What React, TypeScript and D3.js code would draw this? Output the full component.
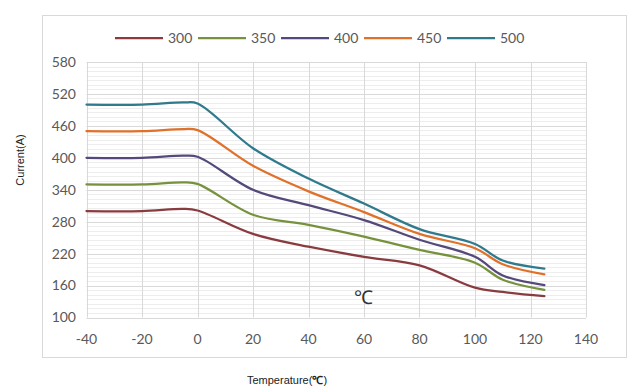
import { useEffect, useRef } from "react"
import * as d3 from "d3"

const temps = [-40, -20, -5, 0, 20, 40, 60, 80, 100, 110, 125]
const s300 = [300, 300, 304, 301, 257, 233, 214, 198, 156, 148, 140]
const s350 = [350, 350, 354, 351, 293, 274, 252, 227, 203, 171, 152]
const s400 = [400, 400, 404, 402, 340, 311, 283, 246, 214, 179, 161]
const s450 = [450, 450, 454, 452, 385, 337, 298, 257, 230, 200, 181]
const s500 = [500, 500, 504, 502, 418, 361, 314, 266, 238, 207, 192]

const seriesNames = ["300", "350", "400", "450", "500"]
const seriesValues = [s300, s350, s400, s450, s500]
const colors = ["#8a3b3f", "#76923c", "#54497a", "#e0712a", "#2f7a8c"]

const xTicks = [-40, -20, 0, 20, 40, 60, 80, 100, 120, 140]
const yTicks = [100, 160, 220, 280, 340, 400, 460, 520, 580]

export default function App() {
  const svgRef = useRef<SVGSVGElement>(null)

  useEffect(() => {
    if (!svgRef.current) return
    const width = 644
    const height = 390
    const svg = d3.select(svgRef.current).attr("width", width).attr("height", height)
    svg.selectAll("*").remove()

    const x = d3.scaleLinear().domain([-40, 140]).range([86.5, 586])
    const y = d3.scaleLinear().domain([100, 580]).range([317.5, 62])
    const tickFont = "Lato, 'Open Sans', sans-serif"

    // chart frame
    svg.append("rect")
      .attr("x", 42.5).attr("y", 15.5).attr("width", 584).attr("height", 342)
      .attr("fill", "#fff").attr("stroke", "#d9d9d9")

    // minor horizontal grid
    const minor = d3.range(100, 580, 60 / 7)
    svg.append("g").selectAll("line").data(minor).enter().append("line")
      .attr("x1", x(-40)).attr("x2", x(140))
      .attr("y1", (d) => Math.round(y(d)) + 0.5).attr("y2", (d) => Math.round(y(d)) + 0.5)
      .attr("stroke", "#ededed")

    // major grid
    svg.append("g").selectAll("line").data(yTicks).enter().append("line")
      .attr("x1", x(-40)).attr("x2", x(140))
      .attr("y1", (d) => Math.round(y(d)) + 0.5).attr("y2", (d) => Math.round(y(d)) + 0.5)
      .attr("stroke", "#d9d9d9")
    svg.append("g").selectAll("line").data(xTicks).enter().append("line")
      .attr("x1", (d) => Math.round(x(d)) + 0.5).attr("x2", (d) => Math.round(x(d)) + 0.5)
      .attr("y1", y(580)).attr("y2", y(100))
      .attr("stroke", "#d9d9d9")

    // tick labels
    svg.append("g").selectAll("text").data(yTicks).enter().append("text")
      .attr("x", 76).attr("y", (d) => y(d)).attr("dy", "0.35em")
      .attr("text-anchor", "end")
      .attr("font-family", tickFont).attr("font-size", 14).attr("fill", "#595959")
      .text((d) => d)
    svg.append("g").selectAll("text").data(xTicks).enter().append("text")
      .attr("x", (d) => x(d)).attr("y", 339).attr("dy", "0.35em")
      .attr("text-anchor", "middle")
      .attr("font-family", tickFont).attr("font-size", 14).attr("fill", "#595959")
      .text((d) => d)

    // lines
    const line = d3.line<number>()
      .x((_, i) => x(temps[i]))
      .y((d) => y(d))
      .curve(d3.curveCatmullRom.alpha(0.5))

    seriesValues.forEach((vals, i) => {
      svg.append("path")
        .datum(vals)
        .attr("d", line)
        .attr("fill", "none")
        .attr("stroke", colors[i])
        .attr("stroke-width", 2.25)
        .attr("stroke-linecap", "round")
    })

    // legend
    const legend = svg.append("g").attr("transform", "translate(115,38)")
    seriesNames.forEach((name, i) => {
      const g = legend.append("g").attr("transform", `translate(${i * 83},0)`)
      g.append("line").attr("x1", 0).attr("x2", 48).attr("y1", 0).attr("y2", 0)
        .attr("stroke", colors[i]).attr("stroke-width", 2.25)
      g.append("text").attr("x", 53).attr("y", 0).attr("dy", "0.35em")
        .attr("font-family", tickFont).attr("font-size", 14).attr("fill", "#595959")
        .text(name)
    })

    // annotation
    svg.append("text").attr("x", 363).attr("y", 297).attr("dy", "0.35em")
      .attr("text-anchor", "middle")
      .attr("font-family", "'Liberation Sans', Arial, sans-serif").attr("font-size", 19)
      .attr("fill", "#333").text("℃")

    // axis titles
    const titleFont = "'Liberation Sans Narrow', 'Liberation Sans', Arial, sans-serif"
    svg.append("text")
      .attr("transform", "translate(24,160) rotate(-90)")
      .attr("text-anchor", "middle")
      .attr("font-family", titleFont).attr("font-size", 11).attr("fill", "#222")
      .text("Current(A)")
    const xt = svg.append("text")
      .attr("x", 287).attr("y", 384)
      .attr("text-anchor", "middle")
      .attr("font-family", titleFont).attr("font-size", 11).attr("fill", "#222")
    xt.append("tspan").text("Temperature(")
    xt.append("tspan").attr("font-weight", "bold").text("℃")
    xt.append("tspan").text(")")
  }, [])

  return (
    <div style={{ position: "absolute", left: 0, top: 0 }}>
      <svg ref={svgRef} style={{ display: "block" }} />
    </div>
  )
}
